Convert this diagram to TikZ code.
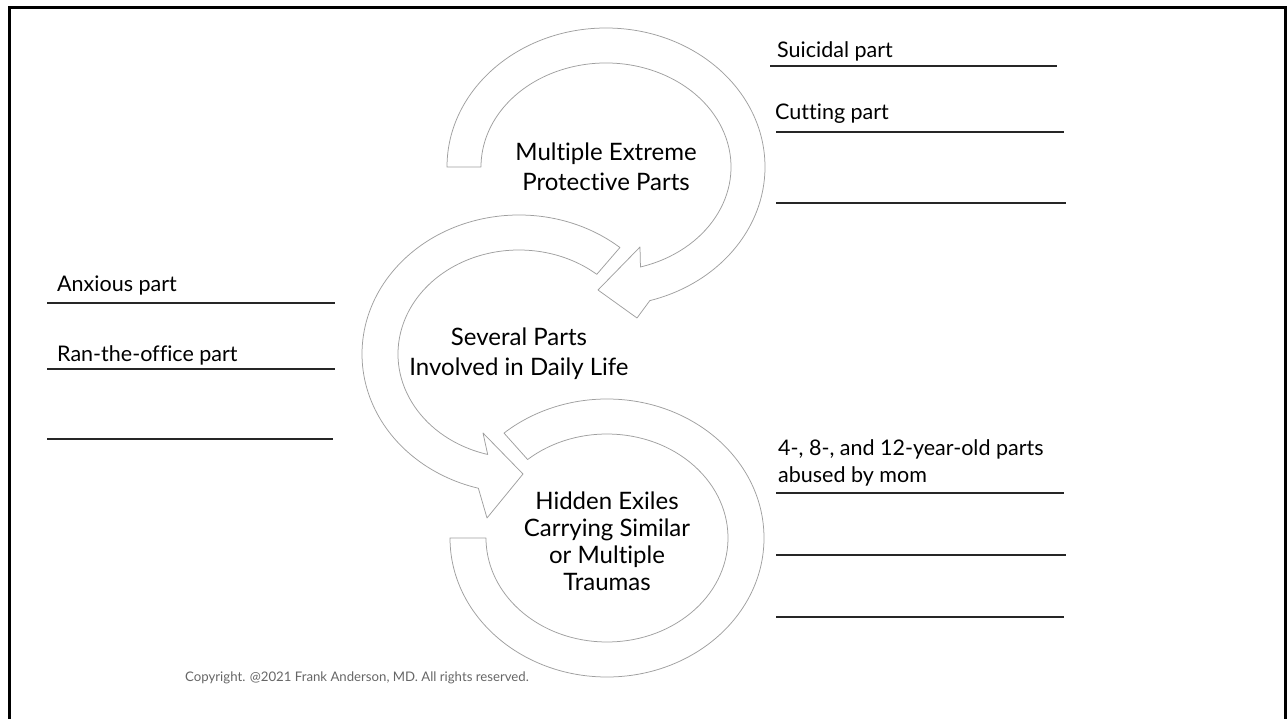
\documentclass[tikz,border=0pt]{standalone}
\usepackage{fontspec}
\setmainfont{Lato}[Ligatures=CommonOff]
\usetikzlibrary{calc}

\tikzset{
  ring/.style={draw=gray!75, line width=0.75pt, fill=white, line join=round},
  blank/.style={black!85, line width=1.1pt},
  partlabel/.style={font=\fontsize{21.5}{27}\selectfont, inner sep=0pt, anchor=base west},
  ringtext/.style={font=\fontsize{24}{30}\selectfont, align=center, inner sep=0pt}
}

\begin{document}
\begin{tikzpicture}[x=1pt, y=-1pt]
  \useasboundingbox (0,0) rectangle (1288,719);
  \draw[line width=3pt] (9.5,740) -- (9.5,7.5) -- (1285.5,7.5) -- (1285.5,740);

  \coordinate (ct) at (606,167);
  \coordinate (cm) at (519,354);
  \coordinate (cb) at (607,538);

  \draw[ring] ($(cb)+(180:157 and 139)$) arc[start angle=180, end angle=-131, x radius=157, y radius=139]
    -- ($(cb)+(-131:121 and 104)$) arc[start angle=-131, end angle=180, x radius=121, y radius=104] -- cycle;
  \draw[ring] ($(cm)+(-50:157 and 139)$) arc[start angle=-50, end angle=-255, x radius=157, y radius=139]
    -- ($(cm)+(-32,164)$) -- ($(cm)+(4,120)$) -- ($(cm)+(-36,79)$)
    -- ($(cm)+(-255:121 and 104)$) arc[start angle=-255, end angle=-50, x radius=121, y radius=104] -- cycle;
  \draw[ring] ($(ct)+(180:159 and 139)$) arc[start angle=180, end angle=434, x radius=159, y radius=139]
    -- ($(ct)+(31,151)$) -- ($(ct)+(-8,123)$) -- ($(ct)+(34,80)$)
    -- ($(ct)+(434:125 and 104)$) arc[start angle=434, end angle=180, x radius=125, y radius=104] -- cycle;

  \node[ringtext] (protect) at (ct) {Multiple Extreme\\Protective Parts};
  \node[ringtext] (daily) at (cm) {Several Parts\\Involved in Daily Life};
  \node[ringtext, font=\fontsize{24}{27}\selectfont] (exiles) at (607,541) {Hidden Exiles\\Carrying Similar\\or Multiple\\Traumas};

  \node[partlabel] (suicidal) at (777,58) {Suicidal part};
  \draw[blank] (770,66) -- (1057,66);
  \node[partlabel] (cutting) at (775,120) {Cutting part};
  \draw[blank] (776,132) -- (1064,132);
  \draw[blank] (776,203) -- (1066,203);

  \node[partlabel] (anxious) at (57,292) {Anxious part};
  \draw[blank] (47,303) -- (335,303);
  \node[partlabel] (office) at (57,362) {Ran-the-office part};
  \draw[blank] (47,369) -- (335,369);
  \draw[blank] (47,439) -- (333,439);

  \node[partlabel, align=left, anchor=north west] (young) at (778,439) {4-, 8-, and 12-year-old parts\\abused by mom};
  \draw[blank] (776,493) -- (1064,493);
  \draw[blank] (776,555) -- (1066,555);
  \draw[blank] (776,617) -- (1064,617);

  \node[font=\fontsize{13.2}{15}\selectfont, text=gray!80!black, anchor=west, inner sep=0pt] (copy) at (185,678) {Copyright. @2021 Frank Anderson, MD. All rights reserved.};
\end{tikzpicture}
\end{document}
